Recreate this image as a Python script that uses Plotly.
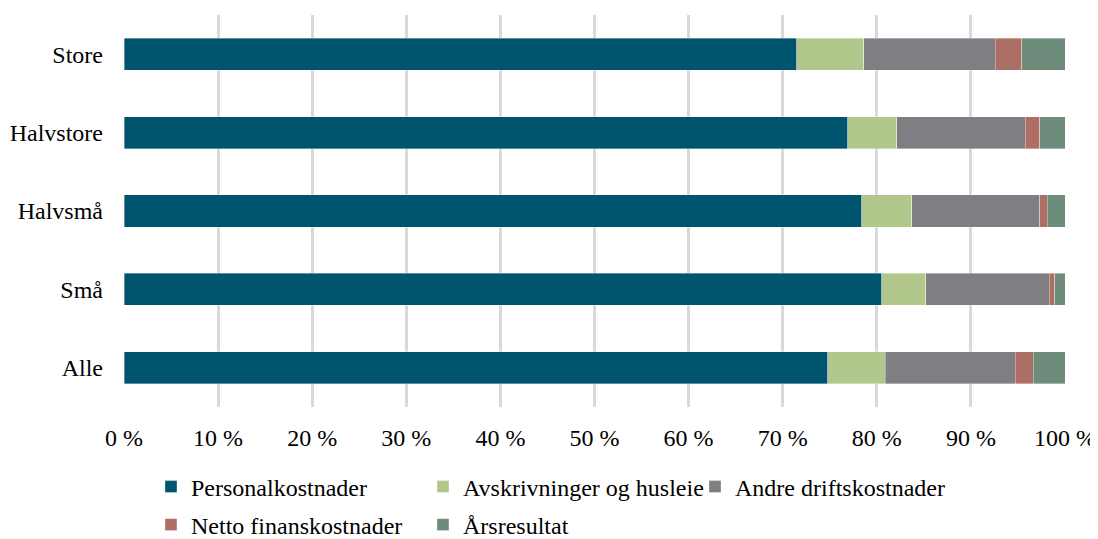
import plotly.graph_objects as go

categories = ["Store", "Halvstore", "Halvsmå", "Små", "Alle"]
series_names = ["Personalkostnader", "Avskrivninger og husleie", "Andre driftskostnader",
                "Netto finanskostnader", "Årsresultat"]
personal = [71.5, 76.9, 78.4, 80.5, 74.8]
avskriv = [7.1, 5.2, 5.3, 4.7, 6.1]
andre = [14.0, 13.7, 13.6, 13.1, 13.8]
netto = [2.8, 1.5, 0.8, 0.6, 1.9]
resultat = [4.6, 2.7, 1.9, 1.1, 3.4]
x_ticks = list(range(0, 101, 10))

colors = ["#00546E", "#B2C78B", "#7F7E83", "#AD6E64", "#6E8C7C"]
values = [personal, avskriv, andre, netto, resultat]
legends = ["legend", "legend", "legend", "legend2", "legend2"]

FONT = "Liberation Serif, Times New Roman, serif"
FS = 24
W, H = 1090, 531  # page body has an 8px margin

fig = go.Figure()
for name, vals, col, lg in zip(series_names, values, colors, legends):
    fig.add_trace(go.Bar(
        y=categories, x=vals, name=name, orientation="h",
        marker=dict(color=col, line=dict(color="rgba(255,255,255,0.6)", width=0.6)),
        legend=lg,
    ))

leg_common = dict(orientation="h", xref="container", yref="container",
                  x=143 / W, xanchor="left", yanchor="middle",
                  font=dict(family=FONT, size=FS, color="#000"),
                  entrywidth=227, entrywidthmode="pixels",
                  itemwidth=30, bgcolor="rgba(0,0,0,0)")

fig.update_layout(
    barmode="stack",
    bargap=0.59,
    width=W, height=H,
    margin=dict(l=116, r=33, t=7, b=132, autoexpand=False),
    plot_bgcolor="white", paper_bgcolor="white",
    font=dict(family=FONT, size=FS, color="#000"),
    legend=dict(**leg_common, y=(H - 479) / H, traceorder="normal"),
    legend2=dict(**leg_common, y=(H - 517) / H, traceorder="normal"),
    xaxis=dict(range=[0, 100], tickvals=x_ticks, ticktext=[f"{v} %" for v in x_ticks],
               showgrid=True, gridcolor="#D9D9D9", gridwidth=3, zeroline=False,
               showline=False, ticks="", ticklabelstandoff=14, automargin=False,
               tickfont=dict(family=FONT, size=FS, color="#000")),
    yaxis=dict(categoryorder="array", categoryarray=categories[::-1],
               showgrid=False, zeroline=False, showline=False, ticks="",
               ticklabelstandoff=20, automargin=False,
               tickfont=dict(family=FONT, size=FS, color="#000")),
)

fig.write_html("out.html")
